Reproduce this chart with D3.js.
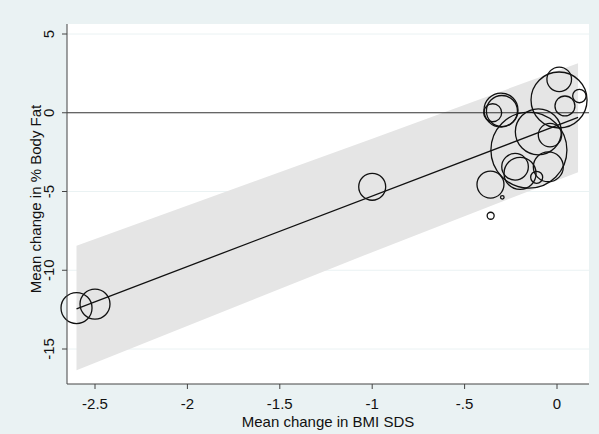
<!DOCTYPE html>
<html>
<head>
<meta charset="utf-8">
<script src="https://cdn.jsdelivr.net/npm/d3@7/dist/d3.min.js"></script>
<style>
  html, body { margin: 0; padding: 0; background: #eaf2f3; }
  svg { display: block; font-family: "Liberation Sans", Arial, sans-serif; }
</style>
</head>
<body>
<svg id="chart" width="599" height="434"></svg>
<script>
// Study-level mean changes: BMI SDS (x) vs % body fat (y); weight sets bubble area
const bmiChange = [-2.60, -2.50, -1.00, -0.359, -0.36, -0.296, -0.303, -0.298, -0.348,
                   0.011, 0.012, 0.043, 0.121, -0.152, -0.101, -0.038, -0.200, -0.047, -0.227, -0.11];
const fatChange = [-12.40, -12.15, -4.70, -6.54, -4.56, -5.37, 0.17, 0.11, 0.00,
                   0.81, 2.12, 0.43, 1.06, -2.37, -1.21, -1.42, -3.85, -3.43, -3.43, -4.10];
const studyWeight = [24.6, 23.0, 18.6, 1.25, 18.6, 0.33, 29.6, 24.6, 8.3,
                     80.2, 15.5, 10.2, 4.6, 147.7, 54.1, 14.0, 26.2, 23.0, 18.1, 3.7];

// Linear fit and its confidence band
const fitX = [-2.60, 0.114];
const fitY = [-12.45, -0.30];
const bandX = [-2.60, -1.00, 0.114];
const bandLow = [-16.35, -8.85, -3.77];
const bandHigh = [-8.45, -1.65, 3.15];

const xTicks = [-2.5, -2, -1.5, -1, -0.5, 0];
const xTickLabels = ["-2.5", "-2", "-1.5", "-1", "-.5", "0"];
const yTicks = [5, 0, -5, -10, -15];
const yTickLabels = ["5", "0", "-5", "-10", "-15"];

const xTitle = "Mean change in BMI SDS";
const yTitle = "Mean change in % Body Fat";

const svg = d3.select("#chart");
const W = 599, H = 434;
const plot = { left: 67, right: 589, top: 24, bottom: 384 };

svg.append("rect").attr("width", W).attr("height", H).attr("fill", "#eaf2f3");
svg.append("rect")
  .attr("x", plot.left).attr("y", plot.top)
  .attr("width", plot.right - plot.left).attr("height", plot.bottom - plot.top)
  .attr("fill", "#ffffff");

const x = d3.scaleLinear().domain([-2.5, 0]).range([95, 557]);
const y = d3.scaleLinear().domain([5, -15]).range([34, 349]);
const r = d3.scaleSqrt().domain([0, 150]).range([0, 38.3]);

// Horizontal grid lines
svg.append("g").selectAll("line")
  .data(yTicks.filter(v => v !== 0))
  .join("line")
  .attr("x1", plot.left).attr("x2", plot.right)
  .attr("y1", d => y(d)).attr("y2", d => y(d))
  .attr("stroke", "#eaf2f3").attr("stroke-width", 1);

// Confidence band
const bandPts = bandX.map((v, i) => ({ x: v, lo: bandLow[i], hi: bandHigh[i] }));
svg.append("path")
  .datum(bandPts)
  .attr("d", d3.area().x(d => x(d.x)).y0(d => y(d.lo)).y1(d => y(d.hi)))
  .attr("fill", "#e5e5e5");

// Reference line at zero
svg.append("line")
  .attr("x1", plot.left).attr("x2", plot.right)
  .attr("y1", y(0)).attr("y2", y(0))
  .attr("stroke", "#333").attr("stroke-width", 1.1);

// Fitted line
svg.append("path")
  .datum(fitX.map((v, i) => [v, fitY[i]]))
  .attr("d", d3.line().x(d => x(d[0])).y(d => y(d[1])))
  .attr("fill", "none").attr("stroke", "#111").attr("stroke-width", 1.3);

// Bubbles
const studies = bmiChange.map((v, i) => ({ x: v, y: fatChange[i], w: studyWeight[i] }));
svg.append("g").selectAll("circle")
  .data(studies)
  .join("circle")
  .attr("cx", d => x(d.x)).attr("cy", d => y(d.y)).attr("r", d => r(d.w))
  .attr("fill", "none").attr("stroke", "#111").attr("stroke-width", 1.3);

// Axes
const axisColor = "#444";
const xAxis = svg.append("g").attr("transform", `translate(0,${plot.bottom})`);
xAxis.append("line").attr("x1", plot.left).attr("x2", plot.right)
  .attr("stroke", axisColor).attr("stroke-width", 1);
xAxis.selectAll("line.tick").data(xTicks).join("line").attr("class", "tick")
  .attr("x1", d => x(d)).attr("x2", d => x(d)).attr("y1", 0).attr("y2", 5)
  .attr("stroke", axisColor);
xAxis.selectAll("text").data(xTicks).join("text")
  .attr("x", d => x(d)).attr("y", 25)
  .attr("text-anchor", "middle").attr("font-size", 15).attr("fill", "#111")
  .text((d, i) => xTickLabels[i]);

const yAxis = svg.append("g").attr("transform", `translate(${plot.left},0)`);
yAxis.append("line").attr("y1", plot.top).attr("y2", plot.bottom)
  .attr("stroke", axisColor).attr("stroke-width", 1);
yAxis.selectAll("line.tick").data(yTicks).join("line").attr("class", "tick")
  .attr("y1", d => y(d)).attr("y2", d => y(d)).attr("x1", 0).attr("x2", -5)
  .attr("stroke", axisColor);
yAxis.selectAll("text").data(yTicks).join("text")
  .attr("transform", d => `translate(-13,${y(d)}) rotate(-90)`)
  .attr("text-anchor", "middle").attr("font-size", 15).attr("fill", "#111")
  .text((d, i) => yTickLabels[i]);

svg.append("text")
  .attr("x", (plot.left + plot.right) / 2).attr("y", 427)
  .attr("text-anchor", "middle").attr("font-size", 15).attr("fill", "#111")
  .text(xTitle);
svg.append("text")
  .attr("transform", `translate(41,${(plot.top + plot.bottom) / 2 - 5}) rotate(-90)`)
  .attr("text-anchor", "middle").attr("font-size", 15).attr("fill", "#111")
  .text(yTitle);
</script>
</body>
</html>
